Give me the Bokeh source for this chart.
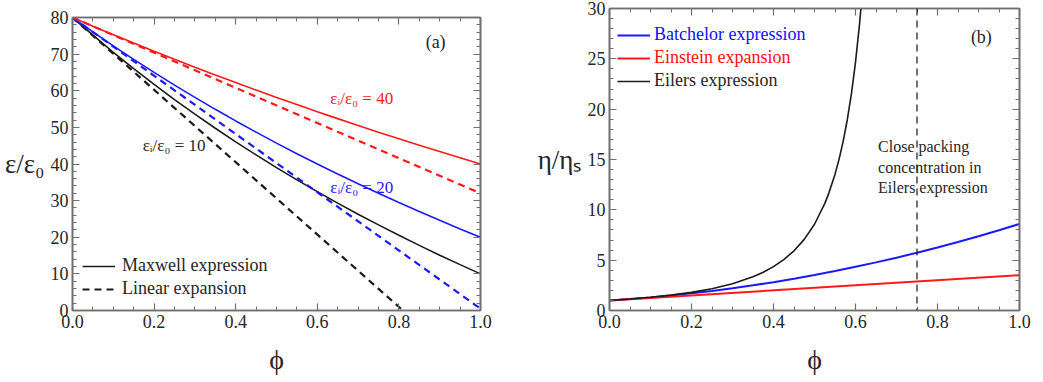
from bokeh.plotting import figure
from bokeh.models import (LinearAxis, SingleIntervalTicker, Range1d, Label, Legend,
                          LegendItem, Span, PrintfTickFormatter, CustomJSTickFormatter)
from bokeh.layouts import row, column
from bokeh.embed import file_html
from bokeh.resources import INLINE

# ---------------- data: panel (a) ----------------
phi = [0.0, 0.05, 0.1, 0.15, 0.2, 0.25, 0.3, 0.35, 0.4, 0.45, 0.5,
       0.55, 0.6, 0.65, 0.7, 0.75, 0.8, 0.85, 0.9, 0.95, 1.0]
maxwell_40 = [80.0, 77.62, 75.29, 73.01, 70.77, 68.57, 66.42, 64.30, 62.22, 60.18, 58.18,
              56.22, 54.29, 52.39, 50.53, 48.70, 46.90, 45.13, 43.39, 41.68, 40.0]
maxwell_20 = [80.0, 76.07, 72.26, 68.57, 65.00, 61.54, 58.18, 54.93, 51.76, 48.70, 45.71,
              42.82, 40.00, 37.26, 34.59, 32.00, 29.47, 27.01, 24.62, 22.28, 20.0]
maxwell_10 = [80.0, 75.16, 70.51, 66.04, 61.74, 57.60, 53.61, 49.77, 46.06, 42.48, 39.02,
              35.68, 32.45, 29.33, 26.30, 23.37, 20.53, 17.78, 15.11, 12.52, 10.0]
linear_40_phi = [0.0, 1.0]
linear_40 = [80.0, 32.0]
linear_20_phi = [0.0, 1.0]
linear_20 = [80.0, 0.5]
linear_10_phi = [0.0, 0.81]
linear_10 = [80.0, 0.0]

# ---------------- data: panel (b) ----------------
batchelor = [1.0, 1.138, 1.301, 1.490, 1.704, 1.944, 2.209, 2.500, 2.816, 3.158, 3.525,
             3.918, 4.336, 4.780, 5.249, 5.744, 6.264, 6.810, 7.381, 7.978, 8.6]
einstein_phi = [0.0, 1.0]
einstein = [1.0, 3.5]
eilers_phi = [0.0, 0.05, 0.1, 0.15, 0.2, 0.25, 0.3, 0.35, 0.375, 0.4, 0.425, 0.45, 0.475,
              0.5, 0.525, 0.535, 0.55, 0.56, 0.57, 0.58, 0.59, 0.6, 0.61, 0.615]
eilers = [1.0, 1.139, 1.310, 1.526, 1.803, 2.166, 2.659, 3.350, 3.804, 4.360, 5.053, 5.931,
          7.065, 8.569, 10.62, 11.66, 13.52, 15.04, 16.83, 18.95, 21.51, 24.64, 28.52, 30.82]
close_packing = 0.75

FONT = "'Liberation Serif', 'Times New Roman', serif"
AX = "#707070"
TXT = "#262626"


def style_axis(ax, ticker, fmt, labels=True):
    ax.ticker = ticker
    ax.axis_line_color = AX
    ax.axis_line_width = 1.6
    ax.major_tick_line_color = AX
    ax.minor_tick_line_color = AX
    ax.major_tick_line_width = 1.2
    ax.minor_tick_line_width = 1.0
    ax.major_tick_in = 7
    ax.major_tick_out = 0
    ax.minor_tick_in = 4
    ax.minor_tick_out = 0
    ax.major_label_text_font = FONT
    ax.major_label_text_color = TXT
    ax.axis_label_text_font = FONT
    ax.axis_label_text_color = TXT
    ax.axis_label_text_font_style = "normal"
    if labels:
        ax.formatter = PrintfTickFormatter(format=fmt)
        ax.major_label_text_font_size = "18px"
        ax.major_label_standoff = 4
    else:
        ax.formatter = CustomJSTickFormatter(code="return ''")
        ax.major_label_text_font_size = "1px"
        ax.major_label_standoff = 0


def make_fig(width, ymax, yt, left, right, top, frame_h):
    p = figure(width=width, height=382, output_backend="svg", toolbar_location=None,
               x_range=Range1d(0, 1), y_range=Range1d(0, ymax),
               min_border_left=left, min_border_right=right,
               min_border_top=top, min_border_bottom=382 - top - frame_h,
               x_axis_location=None, y_axis_location=None)
    p.grid.visible = False
    p.outline_line_color = AX
    p.outline_line_width = 1.6
    xb = LinearAxis()
    style_axis(xb, SingleIntervalTicker(interval=0.2, num_minor_ticks=4), "%.1f")
    xb.axis_label = "ϕ"
    xb.axis_label_text_font_size = "28px"
    xb.axis_label_standoff = 13
    p.add_layout(xb, "below")
    yl = LinearAxis()
    style_axis(yl, SingleIntervalTicker(interval=yt, num_minor_ticks=5), "%d")
    yl.axis_label_orientation = "horizontal"
    yl.axis_label_text_font_size = "27px"
    yl.axis_label_standoff = 3
    p.add_layout(yl, "left")
    xa = LinearAxis()
    style_axis(xa, SingleIntervalTicker(interval=0.2, num_minor_ticks=4), "", labels=False)
    p.add_layout(xa, "above")
    yr = LinearAxis()
    style_axis(yr, SingleIntervalTicker(interval=yt, num_minor_ticks=5), "", labels=False)
    p.add_layout(yr, "right")
    return p, yl


RED = "#ff1a1a"
BLUE = "#1a1aff"
BLACK = "#1a1a1a"

# ---------------- panel (a) ----------------
p1, yl1 = make_fig(532, 80, 10, 72, 52, 17, 293)
yl1.axis_label = "ε/ε₀"

r_m = p1.line(phi, maxwell_10, line_color=BLACK, line_width=1.6)
p1.line(phi, maxwell_20, line_color=BLUE, line_width=1.6)
p1.line(phi, maxwell_40, line_color=RED, line_width=1.6)
r_l = p1.line(linear_10_phi, linear_10, line_color=BLACK, line_width=2.2, line_dash="7 5")
p1.line(linear_20_phi, linear_20, line_color=BLUE, line_width=2.2, line_dash="7 5")
p1.line(linear_40_phi, linear_40, line_color=RED, line_width=2.2, line_dash="7 5")

for txt, x, y, c in [("εᵢ/ε₀ = 40", 0.632, 58.0, RED),
                     ("εᵢ/ε₀ = 20", 0.632, 33.6, BLUE),
                     ("εᵢ/ε₀ = 10", 0.172, 45.1, TXT)]:
    p1.add_layout(Label(x=x, y=y, text=txt, text_font=FONT, text_font_size="17px",
                        text_color=c, text_baseline="middle", text_align="left"))
p1.add_layout(Label(x=0.89, y=73.3, text="(a)", text_font=FONT, text_font_size="18px",
                    text_color=TXT, text_baseline="middle", text_align="center"))

leg1 = Legend(items=[LegendItem(label="Maxwell expression", renderers=[r_m]),
                     LegendItem(label="Linear expansion", renderers=[r_l])],
              location=(10, 11), padding=0, margin=0, spacing=2,
              glyph_width=33, glyph_height=18, label_standoff=7,
              label_text_font=FONT, label_text_font_size="18px", label_text_color=TXT,
              background_fill_alpha=0, border_line_color=None)
p1.add_layout(leg1, "center")

# ---------------- panel (b) ----------------
p2, yl2 = make_fig(511, 30, 5, 77, 24, 8, 302)
yl2.axis_label = "η/ηₛ"

rb = p2.line(phi, batchelor, line_color=BLUE, line_width=2.0)
re = p2.line(einstein_phi, einstein, line_color=RED, line_width=2.0)
rk = p2.line(eilers_phi, eilers, line_color=BLACK, line_width=1.6)
p2.add_layout(Span(location=close_packing, dimension="height", line_color=BLACK,
                   line_width=1.2, line_dash="7 5"))

for i, (t, r, c) in enumerate([("Batchelor expression", rb, "#1010ff"),
                               ("Einstein expansion", re, "#ff1010"),
                               ("Eilers expression", rk, TXT)]):
    off = [25.5, 48.5, 71.5][i]
    lg = Legend(items=[LegendItem(label=t, renderers=[r])],
                location=(8, int(302 - off - 11)), padding=0, margin=0,
                glyph_width=33, glyph_height=20, label_standoff=4,
                label_text_font=FONT, label_text_font_size="18px", label_text_color=c,
                background_fill_alpha=0, border_line_color=None)
    p2.add_layout(lg, "center")

for t, y in [("Close packing", 16.25), ("concentration in", 14.25), ("Eilers expression", 12.25)]:
    p2.add_layout(Label(x=0.655, y=y, text=t, text_font=FONT, text_font_size="16px",
                        text_color=TXT, text_baseline="middle", text_align="left"))
p2.add_layout(Label(x=0.907, y=27.2, text="(b)", text_font=FONT, text_font_size="18px",
                    text_color=TXT, text_baseline="middle", text_align="center"))

layout = row(column(p1), column(p2))
open("out.html", "w").write(file_html(layout, INLINE))
